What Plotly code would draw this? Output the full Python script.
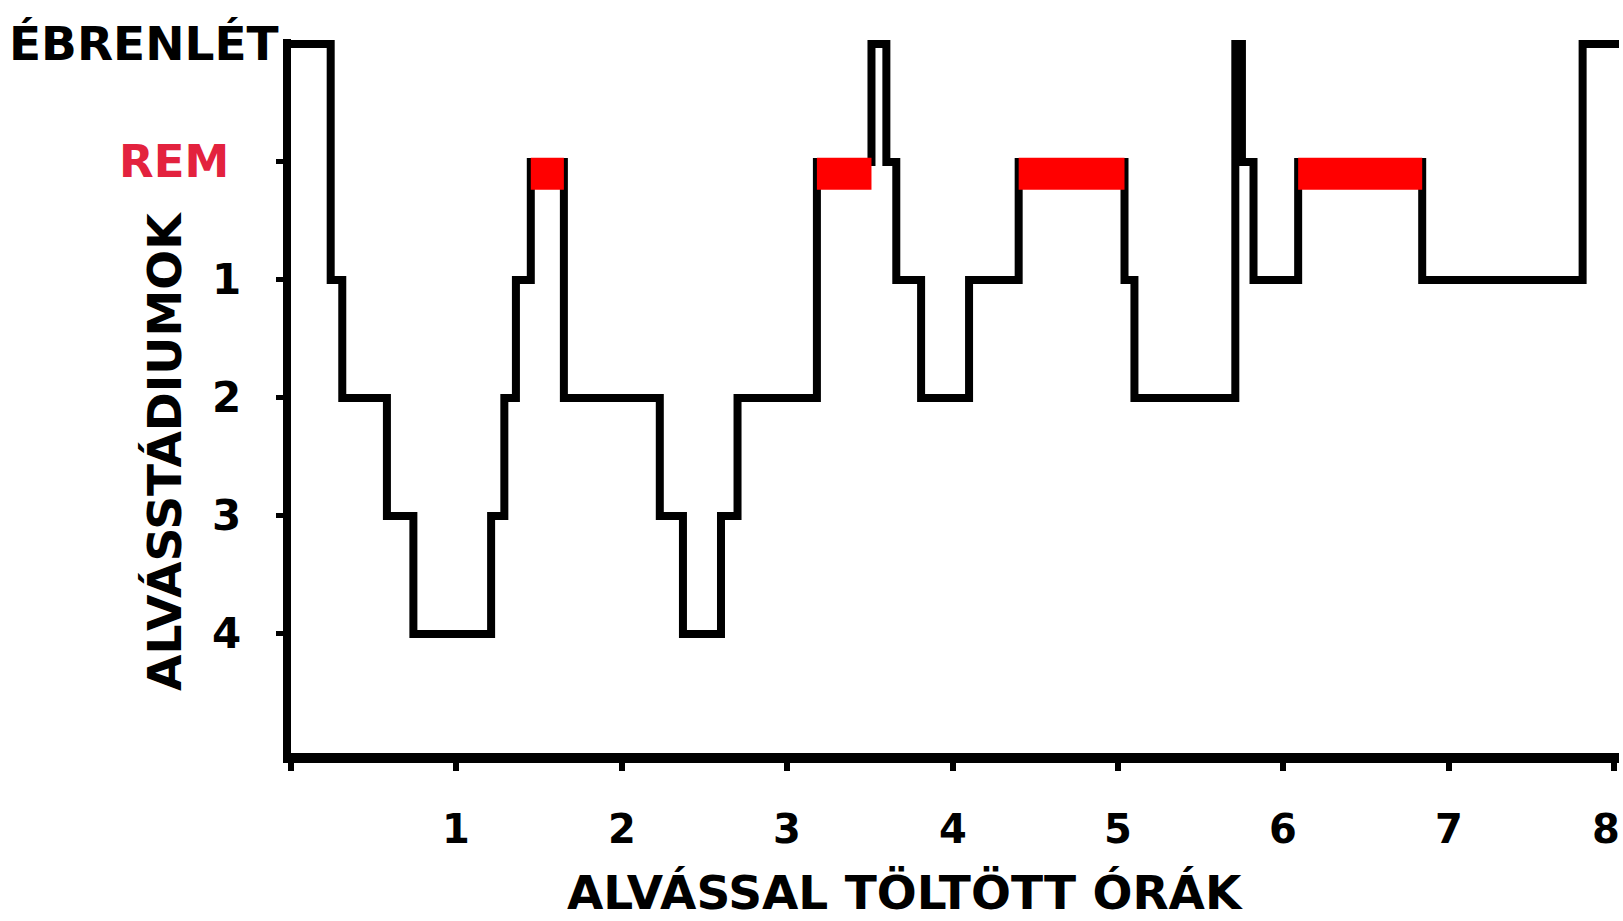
import plotly.graph_objects as go

# ---------------- data ----------------
# moments (hours) at which the sleep stage changes, and the stage entered
change_hours = [0.00, 0.24, 0.31, 0.58, 0.74, 1.21, 1.29, 1.36, 1.45, 1.65,
                2.23, 2.37, 2.60, 2.70, 3.18, 3.51, 3.60, 3.66, 3.81, 4.10,
                4.40, 5.04, 5.10, 5.71, 5.75, 5.82, 6.09, 6.84, 7.81, 8.03]
stages = ["W", "1", "2", "3", "4", "3", "2", "1", "REM", "2",
          "3", "4", "3", "2", "REM", "W", "REM", "1", "2", "1",
          "REM", "1", "2", "W", "REM", "1", "REM", "1", "W", "W"]

# highlighted REM periods (hours)
rem_start = [1.45, 3.18, 4.40, 6.09]
rem_end = [1.65, 3.51, 5.04, 6.84]

# stage order from top to bottom and its labels
stage_order = ["W", "REM", "1", "2", "3", "4"]
stage_labels = ["ÉBRENLÉT", "REM", "1", "2", "3", "4"]

hour_ticks = [0, 1, 2, 3, 4, 5, 6, 7, 8]
hour_labels = ["", "1", "2", "3", "4", "5", "6", "7", "8"]

x_title = "ALVÁSSAL TÖLTÖTT ÓRÁK"
y_title = "ALVÁSSTÁDIUMOK"

# ---------------- layout helpers ----------------
W, H = 1623, 921
ML, MR, MT, MB = 291, 4, 39, 168
X_MAX = 8.03
Y_TOP = -0.042
Y_BOTTOM = 6.009
XLW, YLW = 10, 8
RED_DROP = 0.10          # REM bar sits slightly below the REM level
plot_w = W - ML - MR
plot_h = H - MT - MB
px_per_h = plot_w / X_MAX
px_per_unit = plot_h / (Y_BOTTOM - Y_TOP)
axis_px = MT + plot_h + XLW / 2          # pixel row of the x axis line
wake_px = MT + (0 - Y_TOP) * px_per_unit  # pixel row of the wake level


def paper_y(px):
    return 1 - (px - MT) / plot_h


def paper_x(px):
    return (px - ML) / plot_w


level = {s: i for i, s in enumerate(stage_order)}
y_vals = [level[s] for s in stages]

FONT = "DejaVu Sans"
RED_TXT = "#e3223e"

fig = go.Figure()

# hypnogram
fig.add_trace(go.Scatter(
    x=change_hours, y=y_vals, mode="lines",
    line=dict(color="black", width=8, shape="hv"),
    hoverinfo="skip", showlegend=False))

# REM bars
for s, e in zip(rem_start, rem_end):
    fig.add_trace(go.Scatter(
        x=[s, e], y=[level["REM"] + RED_DROP] * 2, mode="lines",
        line=dict(color="#ff0000", width=32),
        hoverinfo="skip", showlegend=False))

annotations = []

# y stage labels
label_shift = {"ÉBRENLÉT": -10, "REM": -60}
label_size = {"ÉBRENLÉT": 47, "REM": 45}
for s, lab in zip(stage_order, stage_labels):
    is_rem = lab == "REM"
    annotations.append(dict(
        xref="paper", yref="y", x=0, y=level[s], text=lab,
        xanchor="right", yanchor="middle", showarrow=False,
        xshift=label_shift.get(lab, -48),
        font=dict(family=FONT, size=label_size.get(lab, 42),
                  color=RED_TXT if is_rem else "black", weight="bold")))

# x tick labels
for h, lab in zip(hour_ticks, hour_labels):
    if not lab:
        continue
    annotations.append(dict(
        xref="x", yref="paper", x=h, y=paper_y(axis_px + 71), text=lab,
        xanchor="center", yanchor="middle", showarrow=False,
        xshift=-8 if h == hour_ticks[-1] else 0,
        font=dict(family=FONT, size=40, color="black", weight="bold")))

# axis titles
annotations.append(dict(
    xref="paper", yref="paper", x=paper_x(905), y=paper_y(axis_px + 134),
    text=x_title, showarrow=False, xanchor="center", yanchor="middle",
    font=dict(family=FONT, size=47, color="black", weight="bold")))
annotations.append(dict(
    xref="paper", yref="paper", x=paper_x(165), y=paper_y(wake_px + 408),
    text=y_title, showarrow=False, xanchor="center", yanchor="middle", textangle=-90,
    font=dict(family=FONT, size=47, color="black", weight="bold")))

fig.update_layout(
    width=W, height=H,
    margin=dict(l=ML, r=MR, t=MT, b=MB, pad=0),
    paper_bgcolor="white", plot_bgcolor="white",
    showlegend=False,
    annotations=annotations,
    xaxis=dict(range=[0, X_MAX], showgrid=False, zeroline=False,
               showline=True, linewidth=XLW, linecolor="black",
               tickmode="array", tickvals=hour_ticks,
               ticks="outside", ticklen=8, tickwidth=6, tickcolor="black",
               showticklabels=False),
    yaxis=dict(range=[Y_BOTTOM, Y_TOP], showgrid=False, zeroline=False,
               showline=True, linewidth=YLW, linecolor="black",
               tickmode="array", tickvals=[level[s] for s in stage_order[1:]],
               ticks="outside", ticklen=7, tickwidth=5, tickcolor="black",
               showticklabels=False),
)

fig.write_html("out.html",
               config={"displayModeBar": False},
               post_script="document.body.style.margin='0px';"
                           "document.body.style.overflow='hidden';")
